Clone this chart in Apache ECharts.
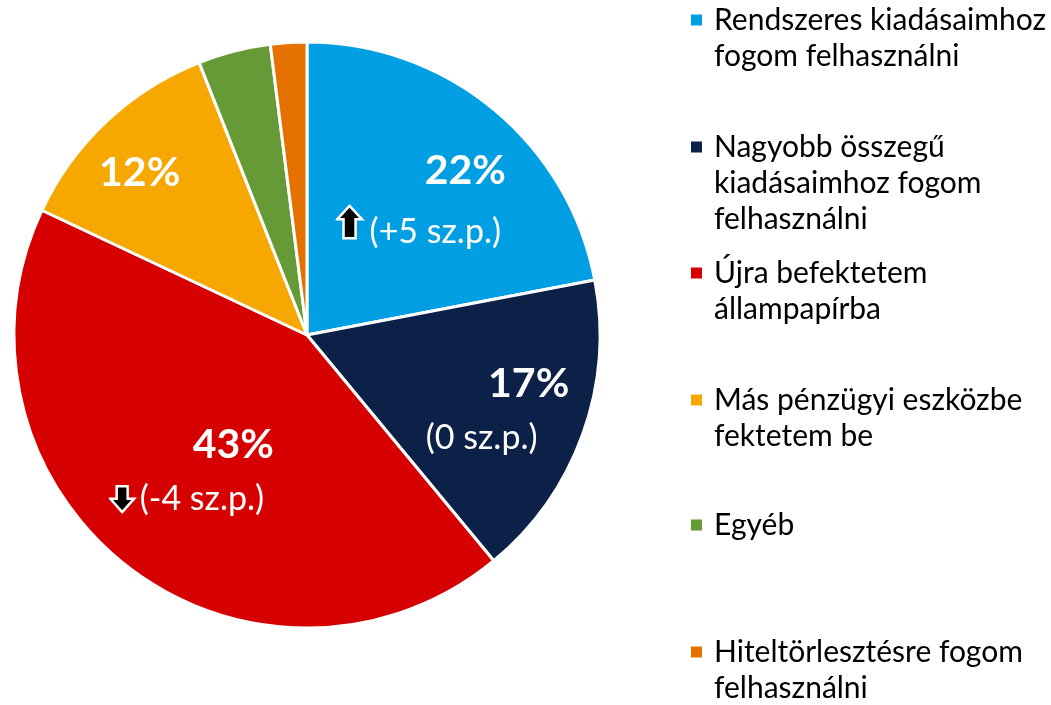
<!DOCTYPE html>
<html>
<head>
<meta charset="utf-8">
<script src="https://cdn.jsdelivr.net/npm/echarts@6/dist/echarts.min.js"></script>
<style>
  html, body { margin: 0; padding: 0; background: #fff; }
  #chart { width: 1051px; height: 705px; }
</style>
</head>
<body>
<div id="chart"></div>
<script>
const nevek = [
    'Rendszeres kiadásaimhoz fogom felhasználni',
    'Nagyobb összegű kiadásaimhoz fogom felhasználni',
    'Újra befektetem állampapírba',
    'Más pénzügyi eszközbe fektetem be',
    'Egyéb',
    'Hiteltörlesztésre fogom felhasználni'
]
const legendSorok = [
    ['Rendszeres kiadásaimhoz', 'fogom felhasználni'],
    ['Nagyobb összegű', 'kiadásaimhoz fogom', 'felhasználni'],
    ['Újra befektetem', 'állampapírba'],
    ['Más pénzügyi eszközbe', 'fektetem be'],
    ['Egyéb'],
    ['Hiteltörlesztésre fogom', 'felhasználni']
]
const ertekek = [22, 17, 43, 12, 4, 2]
const valtozas = ['+5', '0', '-4', null, null, null]
const nyilak = ['up', null, 'down', null, null, null]
const mutatCimke = [true, true, true, true, false, false]
const szinek = ['#009FE3', '#0C2148', '#D70000', '#F7A800', '#659A37', '#E57200']

// label eltolások (dx, dy) a slice közepéhez képest
const cimkeEltolas = [[16, -22], [34, 25], [-29, 19], [-65, -53], [0, 0], [0, 0]]
// legend sorok első sorának közepe (y)
const legendY = [20, 147, 273, 400, 525, 652]
const sorMagassag = 36

// nyilak svg-ként (jobb oldalon kis hézag)
const nyilFel = 'data:image/svg+xml;utf8,' + encodeURIComponent(
    '<svg xmlns="http://www.w3.org/2000/svg" width="34" height="55" viewBox="0 0 34 55">' +
    '<polygon points="14,1.5 26.5,15 20,15 20,34 8,34 8,15 1.5,15" fill="#000" stroke="#fff" stroke-width="2.5" stroke-linejoin="miter"/></svg>')
const nyilLe = 'data:image/svg+xml;utf8,' + encodeURIComponent(
    '<svg xmlns="http://www.w3.org/2000/svg" width="31" height="29" viewBox="0 0 31 29">' +
    '<polygon points="8,1.5 19,1.5 19,14 25.5,14 13.5,27.5 1.5,14 8,14" fill="#000" stroke="#fff" stroke-width="2.5" stroke-linejoin="miter"/></svg>')

function cimke(params) {
    const i = params.dataIndex
    if (!mutatCimke[i]) return ''
    if (valtozas[i] === null) return '{pct0|' + ertekek[i] + '%}'
    let sor2 = ''
    let pct = 'pct'
    if (nyilak[i] === 'up') { sor2 += '{up| }'; pct = 'pctb' }
    if (nyilak[i] === 'down') sor2 += '{down| }'
    sor2 += '{sub|(' + valtozas[i] + ' sz.p.)}'
    return '{' + pct + '|' + ertekek[i] + '%}\n' + sor2
}

let legendek = nevek.map((nev, i) => {
    const n = legendSorok[i].length
    // üres sorok elé, hogy a négyzet az első sorhoz igazodjon
    const szoveg = '\n'.repeat(n - 1) + legendSorok[i].join('\n')
    return {
        data: [nev],
        orient: 'vertical',
        left: 689,
        top: legendY[i] - (2 * n - 1) * sorMagassag / 2,
        padding: 0,
        icon: 'rect',
        itemWidth: 13,
        itemHeight: 13,
        selectedMode: false,
        formatter: () => szoveg,
        textStyle: {
            fontFamily: 'Lato, "Open Sans", sans-serif',
            fontSize: 30,
            lineHeight: sorMagassag,
            color: '#000',
            padding: [0, 0, 0, 6]
        }
    }
})

const betu = 'Lato, "Open Sans", sans-serif'

let option = {
    animation: false,
    color: szinek,
    legend: legendek,
    series: [{
        type: 'pie',
        center: [307, 335],
        radius: [0, 293],
        startAngle: 90,
        clockwise: true,
        avoidLabelOverlap: false,
        itemStyle: {
            borderColor: '#fff',
            borderWidth: 3
        },
        label: {
            show: true,
            position: 'inside',
            formatter: cimke,
            color: '#fff',
            align: 'center',
            rich: {
                pct: {
                    fontFamily: betu, fontWeight: 'bold', fontSize: 41, color: '#fff',
                    lineHeight: 54, padding: [0, 0, 0, 94]
                },
                pctb: {
                    fontFamily: betu, fontWeight: 'bold', fontSize: 41, color: '#fff',
                    lineHeight: 68, padding: [0, 0, 0, 94]
                },
                pct0: {
                    fontFamily: betu, fontWeight: 'bold', fontSize: 41, color: '#fff',
                    lineHeight: 50
                },
                sub: {
                    fontFamily: betu, fontSize: 34, color: '#fff', lineHeight: 54
                },
                up: {
                    width: 34, height: 55,
                    backgroundColor: { image: nyilFel }
                },
                down: {
                    width: 31, height: 29,
                    backgroundColor: { image: nyilLe }
                }
            }
        },
        labelLine: { show: false },
        labelLayout: function (params) {
            const e = cimkeEltolas[params.dataIndex]
            return { dx: e[0], dy: e[1] }
        },
        emphasis: { disabled: true },
        data: nevek.map((nev, i) => ({ name: nev, value: ertekek[i] }))
    }]
}

const chart = echarts.init(document.getElementById('chart'))
chart.setOption(option)
</script>
</body>
</html>
